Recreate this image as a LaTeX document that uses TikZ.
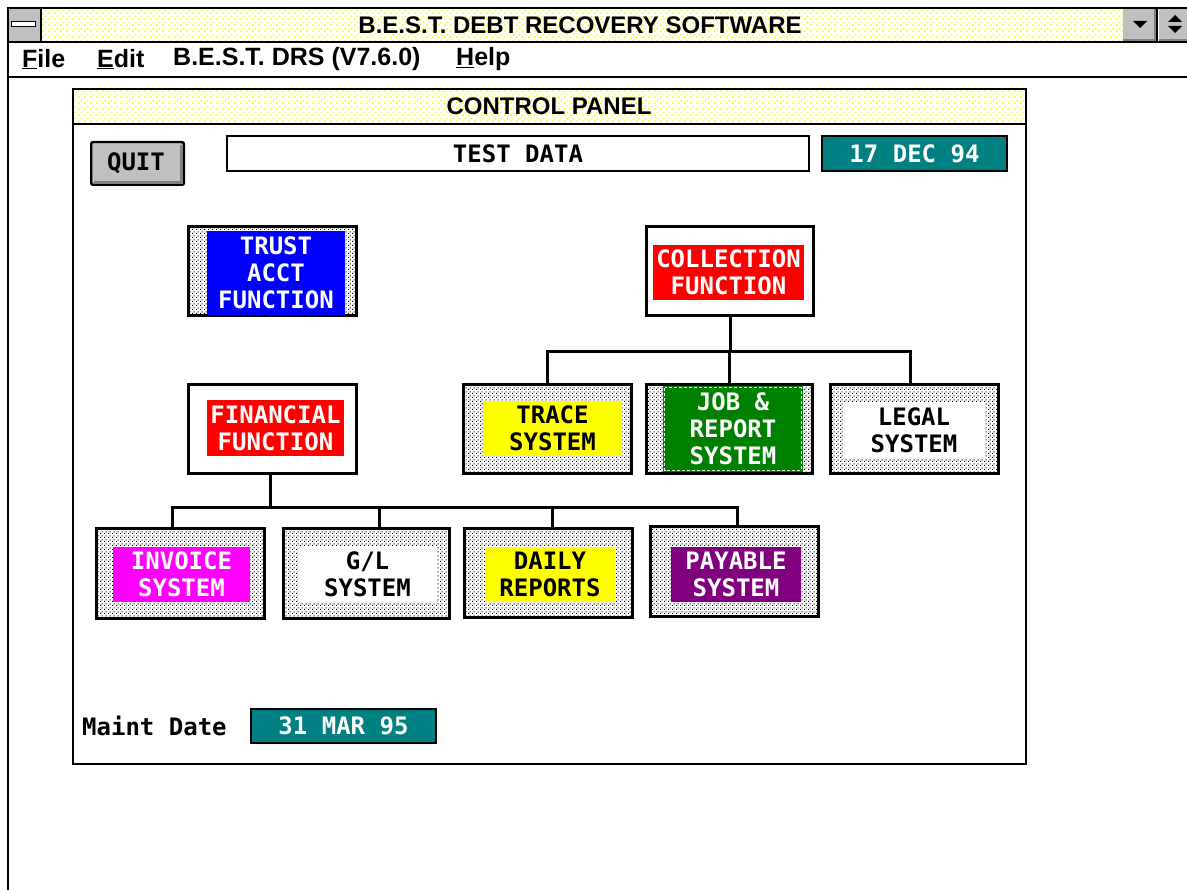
\documentclass[tikz,border=0pt]{standalone}
\usepackage{fontspec}
\setmainfont{Liberation Sans}
\newfontfamily\monof{DejaVu Sans Mono}
\usetikzlibrary{patterns,calc}
\pgfdeclarepatternformonly{bdots}{\pgfqpoint{0pt}{0pt}}{\pgfqpoint{4pt}{4pt}}{\pgfqpoint{4pt}{4pt}}{%
  \pgfpathrectangle{\pgfqpoint{0pt}{0pt}}{\pgfqpoint{1.4pt}{1.4pt}}%
  \pgfpathrectangle{\pgfqpoint{2pt}{2pt}}{\pgfqpoint{1.4pt}{1.4pt}}%
  \pgfusepath{fill}}
\pgfdeclarepatternformonly{ydots}{\pgfqpoint{0pt}{0pt}}{\pgfqpoint{6pt}{6pt}}{\pgfqpoint{6pt}{6pt}}{%
  \pgfpathrectangle{\pgfqpoint{0pt}{0pt}}{\pgfqpoint{1.8pt}{1.8pt}}%
  \pgfpathrectangle{\pgfqpoint{3pt}{3pt}}{\pgfqpoint{1.8pt}{1.8pt}}%
  \pgfusepath{fill}}
\definecolor{tealc}{HTML}{008080}
\definecolor{greenc}{HTML}{008000}
\definecolor{purplec}{HTML}{800080}
\definecolor{magc}{HTML}{FF00FF}
\definecolor{redc}{HTML}{FF0000}
\definecolor{bluec}{HTML}{0000FF}
\definecolor{yellowc}{HTML}{FFFF00}
\definecolor{btngray}{HTML}{C0C0C0}
\definecolor{btndark}{HTML}{808080}
\begin{document}
\begin{tikzpicture}[x=1pt,y=-1pt,
  sansb/.style={font=\bfseries\fontsize{24}{24}\selectfont, inner sep=0},
  menub/.style={font=\bfseries\fontsize{25}{25}\selectfont, inner sep=0},
  lbl/.style={font=\monof\bfseries\fontsize{24}{27}\selectfont, align=center, inner sep=0},
  dotbox/.style={draw, line width=3pt, pattern=bdots, pattern color=black, minimum width=168, minimum height=89, inner sep=0},
  plainbox/.style={draw, line width=3pt, fill=white, minimum width=168, minimum height=89, inner sep=0},
  ybar/.style={pattern=ydots, pattern color=yellowc, inner sep=0},
  btn/.style={fill=btngray, inner sep=0},
  datebox/.style={lbl, draw, line width=1.5pt, fill=tealc, text=white, minimum width=185, minimum height=35},
  conn/.style={line width=3pt}]
\useasboundingbox (0,0) rectangle (1187,890);
\fill[white] (0,0) rectangle (1187,890);

% ---- main window title bar
\node[ybar, minimum width=1082, minimum height=34] (tbar) at (582,25) {};
\node[sansb] (ttl) at (580,25) {B.E.S.T. DEBT RECOVERY SOFTWARE};
\node[btn, minimum width=33, minimum height=34] (sys) at (24.5,25) {};
\draw[btndark, line width=2pt] (sys.north east) -- (sys.south east);
\node[draw, fill=white, line width=1pt, minimum width=24, minimum height=5, inner sep=0] (sysbar) at (23,24) {};
\node[btn, minimum width=34, minimum height=34] (dnbtn) at (1140,25) {};
\draw[btndark, line width=3pt] ([xshift=-1.5]dnbtn.north east) -- ([xshift=-1.5]dnbtn.south east);
\draw[btndark, line width=3pt] ([shift={(0,-1.5)}]dnbtn.south west) -- ([shift={(0,-1.5)}]dnbtn.south east);
\node[btn, minimum width=28, minimum height=34] (udbtn) at (1173,25) {};
\draw[btndark, line width=3pt] ([shift={(0,-1.5)}]udbtn.south west) -- ([shift={(0,-1.5)}]udbtn.south east);
\draw[black, line width=2pt] (dnbtn.north east) -- (dnbtn.south east);
\fill (1133,21) -- (1147,21) -- (1140,28) -- cycle;
\fill (1168,22) -- (1182,22) -- (1175,15) -- cycle;
\fill (1168,26) -- (1182,26) -- (1175,33) -- cycle;
\draw[line width=2pt] (8,890) -- (8,8) -- (1187,8);
\draw[line width=2pt] (41,8) -- (41,42);
\draw[line width=2pt] (8,42) -- (1187,42);
\draw[line width=2pt] (8,77) -- (1187,77);

% ---- menu
\node[menub, anchor=west] (mfile) at (22,59) {\underline{F}ile};
\node[menub, anchor=west] (medit) at (97,59) {\underline{E}dit};
\node[menub, anchor=west] (mdrs) at (173,59) {B.E.S.T. DRS (V7.6.0)};
\node[menub, anchor=west] (mhelp) at (456,59) {\underline{H}elp};

% ---- control panel
\node[draw, line width=2pt, minimum width=953, minimum height=675, anchor=north west, inner sep=0] (cp) at (72,88) {};
\node[ybar, draw, line width=2pt, minimum width=953, minimum height=35, anchor=north west] (cpbar) at (72,88) {};
\node[sansb] (cpttl) at (549,106) {CONTROL PANEL};

% QUIT button
\node[btn, draw, line width=1.5pt, rounded corners=2pt, minimum width=92, minimum height=42] (quit) at (137.5,163.5) {};
\draw[btndark, line width=3pt] ([shift={(3,-2.5)}]quit.south west) -- ([shift={(-2.5,-2.5)}]quit.south east) -- ([shift={(-2.5,3)}]quit.north east);
\draw[line width=1.5pt, rounded corners=2pt] (quit.south west) rectangle (quit.north east);
\node[lbl] (quitt) at (136,163) {QUIT};

\node[lbl, draw, line width=2pt, fill=white, minimum width=582, minimum height=35] (test) at (518,153.5) {TEST DATA};
\node[datebox] (date) at (914.5,153.5) {17 DEC 94};

% ---- boxes
\node[dotbox] (trust) at (272.5,271.5) {};
\node[lbl, fill=bluec, text=white, minimum width=138, minimum height=84] (trustl) at (276,273) {TRUST\\ACCT\\FUNCTION};

\node[plainbox, minimum width=167] (coll) at (730,271.5) {};
\node[lbl, fill=redc, text=white, minimum width=151, minimum height=55] (colll) at (728.5,272.5) {COLLECTION\\FUNCTION};

\node[plainbox] (fin) at (272.5,429) {};
\node[lbl, fill=redc, text=white, minimum width=137, minimum height=56] (finl) at (275.5,428) {FINANCIAL\\FUNCTION};

\node[dotbox] (trace) at (547,429) {};
\node[lbl, fill=yellowc, minimum width=139, minimum height=55] (tracel) at (552.5,428.5) {TRACE\\SYSTEM};

\node[dotbox, minimum width=166] (job) at (729.5,429) {};
\node[lbl, fill=greenc, text=white, minimum width=140, minimum height=86] (jobl) at (733,429) {JOB \&\\REPORT\\SYSTEM};
\draw[white, line width=1pt, dash pattern=on 3pt off 2pt] ([shift={(2,2)}]jobl.north west) rectangle ([shift={(-2,-2)}]jobl.south east);

\node[dotbox] (legal) at (914,429) {};
\node[lbl, fill=white, minimum width=142, minimum height=56] (legall) at (914,430) {LEGAL\\SYSTEM};

\node[dotbox] (inv) at (180,573.5) {};
\node[lbl, fill=magc, text=white, minimum width=137, minimum height=55] (invl) at (181.5,574.5) {INVOICE\\SYSTEM};

\node[dotbox, minimum width=166] (gl) at (366.5,573.5) {};
\node[lbl, fill=white, minimum width=139, minimum height=56] (gll) at (367.5,574) {G/L\\SYSTEM};

\node[dotbox] (daily) at (548.5,573) {};
\node[lbl, fill=yellowc, minimum width=130, minimum height=55] (dailyl) at (550,574.5) {DAILY\\REPORTS};

\node[dotbox] (pay) at (734,571.5) {};
\node[lbl, fill=purplec, text=white, minimum width=130, minimum height=55] (payl) at (736,574.5) {PAYABLE\\SYSTEM};

% ---- connectors
\coordinate (cb) at (730,352);
\draw[conn] (coll.south) -- (coll.south |- cb);
\draw[conn] (trace.north) |- ([xshift=-4]legal.north |- cb) -- ([xshift=-4]legal.north);
\draw[conn] (job.north) -- (job.north |- cb);

\coordinate (fb) at (270,508);
\draw[conn] ([xshift=-2.5]fin.south) -- ([xshift=-2.5]fin.south |- fb);
\draw[conn] ([xshift=-8]inv.north) |- ([xshift=3]pay.north |- fb) -- ([xshift=3]pay.north);
\draw[conn] ([xshift=12.5]gl.north) -- ([xshift=12.5]gl.north |- fb);
\draw[conn] ([xshift=3.5]daily.north) -- ([xshift=3.5]daily.north |- fb);

% ---- maint date
\node[lbl, anchor=west] (mlab) at (82,726) {Maint Date};
\node[datebox, minimum height=34] (mdate) at (343.5,726) {31 MAR 95};
\end{tikzpicture}
\end{document}
